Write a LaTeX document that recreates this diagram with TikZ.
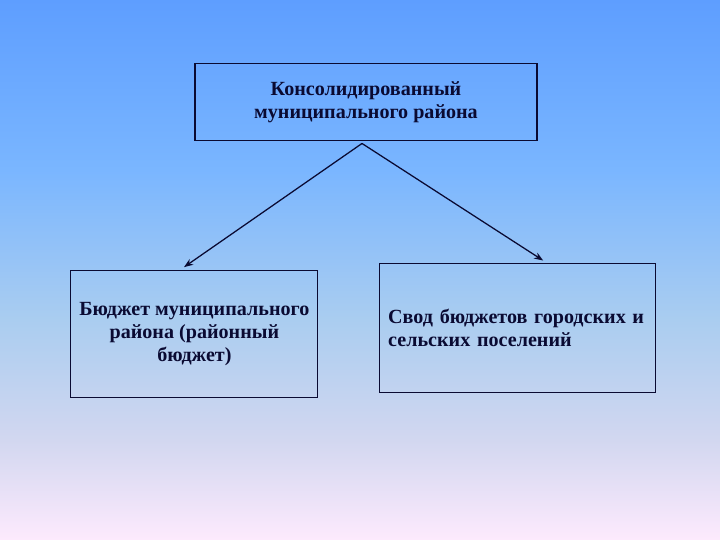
\documentclass[tikz,border=0pt]{standalone}
\usepackage{fontspec}
\setmainfont{Liberation Serif}
\usetikzlibrary{arrows.meta}
\definecolor{skytop}{RGB}{94,158,255}
\definecolor{skyhigh}{RGB}{122,182,255}
\definecolor{skymid}{RGB}{170,205,240}
\definecolor{skylow}{RGB}{210,215,240}
\definecolor{skybot}{RGB}{253,234,253}
\definecolor{ink}{RGB}{10,10,50}
\pgfdeclareverticalshading{slide}{100bp}{color(0bp)=(skybot); color(25bp)=(skybot); color(34.26bp)=(skylow); color(45.37bp)=(skymid); color(59.26bp)=(skyhigh); color(75bp)=(skytop); color(100bp)=(skytop)}
\begin{document}
\begin{tikzpicture}[font=\bfseries\fontsize{14.3}{16.3}\selectfont,box/.style={draw=ink,line width=0.8pt,text=ink,align=center,inner sep=0pt},link/.style={draw=ink,line width=0.9pt,-{Stealth[length=2.3mm,width=1.7mm]}}]
\useasboundingbox (0,0) rectangle (18,-13.5);
\shade[shading=slide] (0,0) rectangle (18,-13.5);
\node[box,minimum width=8.55cm,minimum height=1.925cm] (cons) at (9.15,-2.56) {Консолидированный\\муниципального района};
\node[box,minimum width=6.175cm,minimum height=3.175cm] (rayon) at (4.86,-8.36) {Бюджет муниципального\\района (районный\\бюджет)};
\node[box,minimum width=6.9cm,minimum height=3.225cm,text width=6.45cm,align=left,inner xsep=0.225cm] (svod) at (12.93,-8.19) {Свод бюджетов городских и\\сельских поселений};
\coordinate (apex) at ([xshift=-0.1cm,yshift=-0.05cm]cons.south);
\draw[link] (apex) -- ([xshift=-0.26cm,yshift=0.08cm]rayon.north);
\draw[link] (apex) -- ([xshift=0.65cm,yshift=0.05cm]svod.north);
\end{tikzpicture}
\end{document}
